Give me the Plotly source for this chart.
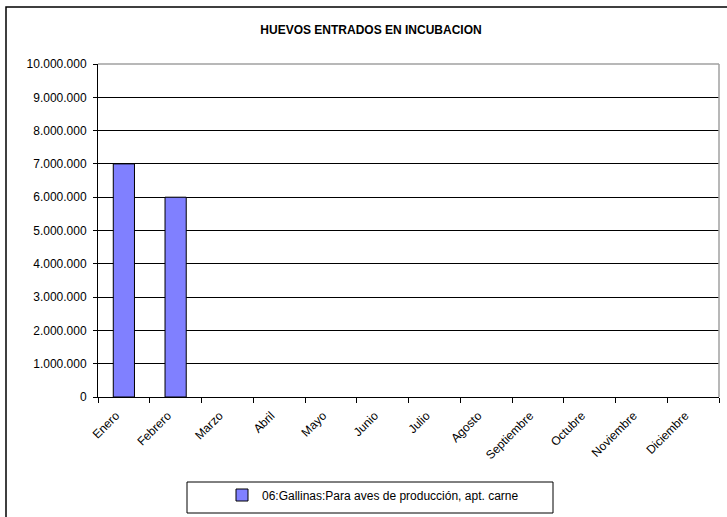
import plotly.graph_objects as go

months = ["Enero", "Febrero", "Marzo", "Abril", "Mayo", "Junio", "Julio",
          "Agosto", "Septiembre", "Octubre", "Noviembre", "Diciembre"]
values = [7000000, 6000000, 0, 0, 0, 0, 0, 0, 0, 0, 0, 0]
series_name = "06:Gallinas:Para aves de producción, apt. carne"
title_text = "HUEVOS ENTRADOS EN INCUBACION"
y_ticks = [0, 1000000, 2000000, 3000000, 4000000, 5000000,
           6000000, 7000000, 8000000, 9000000, 10000000]

W, H = 727, 517
L, R, T, B = 98, 719, 64, 397
pw, ph = R - L, B - T

def px(x):
    return (x - L) / pw

def py(y):
    return (B - y) / ph

line_widths = [1 if v else 0 for v in values]

fig = go.Figure()
fig.add_trace(go.Bar(
    x=months, y=values, name=series_name,
    marker=dict(color="#8080FF", line=dict(color="#000000", width=line_widths)),
    width=0.41,
))

fig.update_layout(
    width=W, height=H,
    margin=dict(l=L, r=W - R, t=T, b=H - B, pad=0),
    paper_bgcolor="white", plot_bgcolor="white",
    separators=",.",
    font=dict(family="Liberation Sans, Arial, sans-serif", size=12, color="black"),
    title=dict(text="<b>" + title_text + "</b>", x=371 / W, xref="container",
               xanchor="center", y=1 - 30 / H, yanchor="middle", font=dict(size=12)),
    showlegend=True,
    legend=dict(x=px(222), y=py(495), xanchor="left", yanchor="middle",
                orientation="h", bgcolor="rgba(0,0,0,0)", borderwidth=0,
                font=dict(size=12)),
    xaxis=dict(tickangle=-45, tickson="boundaries", ticks="outside", ticklen=5,
               tickcolor="black", showline=True, linecolor="black", linewidth=1,
               showgrid=False, tickfont=dict(size=12),
               ticklabelstandoff=6, ticklabelshift=-8),
    yaxis=dict(range=[0, 10000000], tickvals=y_ticks, tickformat=",d",
               ticks="outside", ticklen=4, tickcolor="black",
               showline=True, linecolor="black", linewidth=1,
               showgrid=True, gridcolor="black", gridwidth=1,
               zeroline=False, tickfont=dict(size=12), ticklabelstandoff=4),
    shapes=[
        dict(type="rect", xref="paper", yref="paper",
             x0=px(6), x1=px(740), y0=py(530), y1=py(7),
             line=dict(color="black", width=1.5), fillcolor="rgba(0,0,0,0)", layer="below"),
        dict(type="rect", xref="paper", yref="paper",
             x0=px(187), x1=px(553), y0=py(513), y1=py(482),
             line=dict(color="black", width=1), fillcolor="rgba(0,0,0,0)", layer="below"),
        dict(type="line", xref="paper", yref="paper",
             x0=1, x1=1, y0=0, y1=1, line=dict(color="#A0A0A0", width=1.5), layer="above"),
        dict(type="line", xref="paper", yref="paper",
             x0=0, x1=1, y0=1, y1=1, line=dict(color="#A0A0A0", width=1.5), layer="above"),
    ],
)

fig.write_html("out.html", config={"displayModeBar": False},
               post_script="document.body.style.margin='0';document.body.style.overflow='hidden';")
